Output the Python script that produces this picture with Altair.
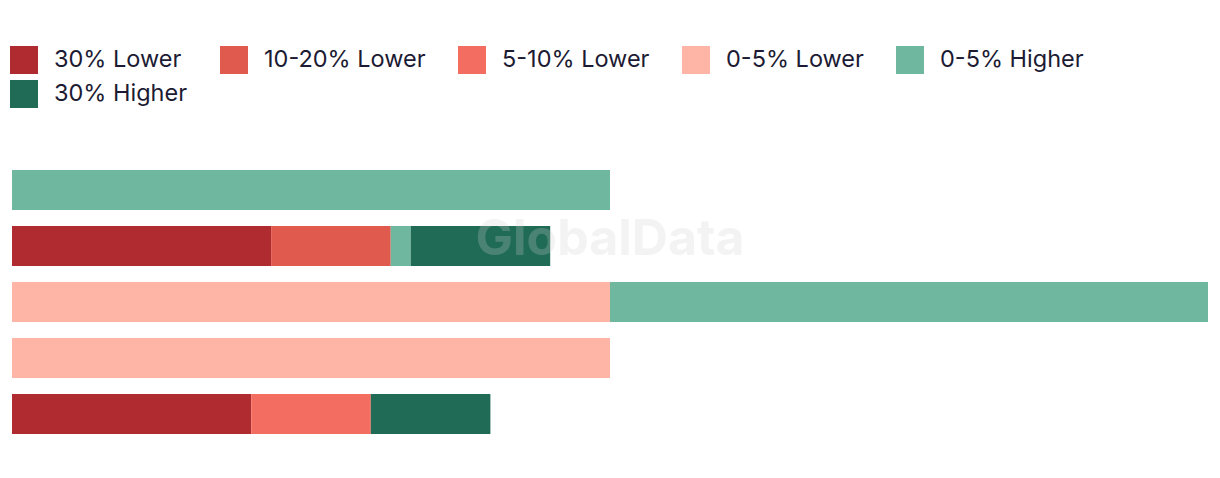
import altair as alt
import pandas as pd

rows = ["Row 1", "Row 2", "Row 3", "Row 4", "Row 5"]
categories = ["30% Lower", "10-20% Lower", "5-10% Lower", "0-5% Lower", "0-5% Higher", "30% Higher"]
colors = ["#b02b2f", "#e05a4e", "#f46d61", "#feb5a5", "#6fb89f", "#206b56"]

# values per category, one entry per row
v_30_lower   = [0, 13, 0, 0, 12]
v_10_20_lower = [0, 6, 0, 0, 0]
v_5_10_lower = [0, 0, 0, 0, 6]
v_0_5_lower  = [0, 0, 30, 30, 0]
v_0_5_higher = [30, 1, 30, 0, 0]
v_30_higher  = [0, 7, 0, 0, 6]

series = [v_30_lower, v_10_20_lower, v_5_10_lower, v_0_5_lower, v_0_5_higher, v_30_higher]

recs = []
for ci, (cat, vals) in enumerate(zip(categories, series)):
    for r, v in zip(rows, vals):
        if v > 0:
            recs.append({"row": r, "category": cat, "value": v, "order": ci})
df = pd.DataFrame(recs)

FONT = "Inter"

bars = alt.Chart(df).mark_bar(size=40).encode(
    y=alt.Y("row:N", sort=rows, axis=None,
            scale=alt.Scale(paddingInner=16 / 56, paddingOuter=8 / 56)),
    x=alt.X("sum(value):Q", axis=None,
            scale=alt.Scale(domain=[0, 60], nice=False, zero=True)),
    color=alt.Color("category:N", sort=categories,
                    scale=alt.Scale(domain=categories, range=colors),
                    legend=alt.Legend(
                        title=None, orient="none", legendX=-2, legendY=-116,
                        direction="horizontal", columns=5, gridAlign="none",
                        symbolType="square", symbolSize=784, symbolStrokeWidth=0,
                        symbolOpacity=1,
                        labelFont=FONT, labelFontSize=23.5, labelColor="#1c1b33",
                        labelOffset=16, columnPadding=32, rowPadding=6,
                        padding=0, labelLimit=400)),
    order=alt.Order("order:Q"),
)

wm = alt.Chart(pd.DataFrame({"t": ["GlobalData"]})).mark_text(
    font=FONT, fontSize=50, fontWeight="bold", color="#d0d0d0", opacity=0.24,
    align="center", baseline="middle"
).encode(text="t:N", x=alt.value(598), y=alt.value(78))

chart = alt.layer(bars, wm).properties(
    width=1196, height=280,
    padding={"left": 12, "top": 162, "right": 12, "bottom": 36},
    autosize=alt.AutoSizeParams(type="none"),
).configure(background="white").configure_view(strokeWidth=0, stroke=None)

chart.save("out.html", embed_options={"renderer": "svg", "actions": False})
